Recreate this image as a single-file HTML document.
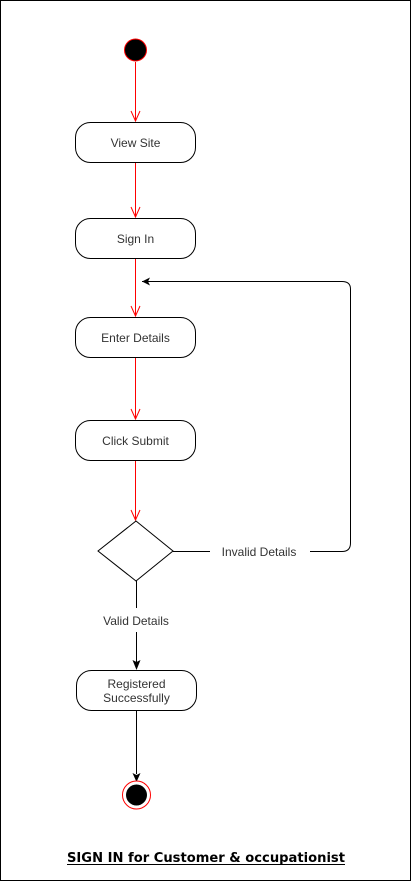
<!DOCTYPE html>
<html><head><style>body{margin:0;background:#fff}svg{display:block}</style></head><body>
<svg width="411" height="881" viewBox="0 0 411 881" xmlns="http://www.w3.org/2000/svg" font-family="Liberation Sans, Arial, sans-serif">
<rect x="0.5" y="0.5" width="410" height="880" fill="#fff" stroke="#000"/>
<g stroke="#ff0000" fill="none">
<line x1="135.5" y1="62" x2="135.5" y2="121"/><path d="M131 111 L135.5 121 L140 111"/>
<line x1="135.5" y1="162" x2="135.5" y2="217"/><path d="M131 207 L135.5 217 L140 207"/>
<line x1="135.5" y1="258" x2="135.5" y2="316"/><path d="M131 306 L135.5 316 L140 306"/>
<line x1="135.5" y1="357" x2="135.5" y2="419"/><path d="M131 409 L135.5 419 L140 409"/>
<line x1="135.5" y1="460" x2="135.5" y2="520"/><path d="M131 510 L135.5 520 L140 510"/>
</g>
<circle cx="135.5" cy="50" r="11" fill="#000" stroke="#ff0000"/>
<g fill="#fff" stroke="#000">
<rect x="75.5" y="122.5" width="120" height="40" rx="15"/>
<rect x="75.5" y="218.5" width="120" height="40" rx="15"/>
<rect x="75.5" y="317.5" width="120" height="40" rx="15"/>
<rect x="75.5" y="420.5" width="120" height="40" rx="15"/>
<rect x="76.5" y="670.5" width="120" height="40" rx="15"/>
<path d="M136 521 L173 551 L136 581 L98 551 Z"/>
</g>
<g stroke="#000" fill="none">
<line x1="173" y1="551.5" x2="210" y2="551.5"/>
<path d="M310 551.5 H342 Q350.5 551.5 350.5 543 V289 Q350.5 281.5 342 281.5 H142"/>
<line x1="136.5" y1="581" x2="136.5" y2="608"/>
<line x1="136.5" y1="632" x2="136.5" y2="662"/>
<line x1="136.5" y1="710" x2="136.5" y2="774"/>
</g>
<path d="M142 281.5 L150 277.5 L148 281.5 L150 285.5 Z" fill="#000"/>
<path d="M132.5 660 L136.5 670 L140.5 660 L136.5 662 Z" fill="#000"/>
<path d="M132.5 773 L136.5 782 L140.5 773 L136.5 775 Z" fill="#000"/>
<circle cx="136.5" cy="795" r="14" fill="#fff" stroke="#ff0000"/>
<circle cx="136.5" cy="795" r="10.5" fill="#000"/>
<g font-size="12" fill="#333" text-anchor="middle">
<text x="135.5" y="147">View Site</text>
<text x="135.5" y="243">Sign In</text>
<text x="135.5" y="342">Enter Details</text>
<text x="135.5" y="445">Click Submit</text>
<text x="136.5" y="688">Registered</text>
<text x="136.5" y="702">Successfully</text>
<text x="259" y="556">Invalid Details</text>
<text x="136" y="625">Valid Details</text>
</g>
<text x="67" y="862" font-family="DejaVu Sans, Verdana, sans-serif" font-weight="bold" font-size="13.3" fill="#000" textLength="278" lengthAdjust="spacingAndGlyphs">SIGN IN for Customer &amp; occupationist</text>
<line x1="67" y1="864.5" x2="345" y2="864.5" stroke="#000"/>
</svg>
</body></html>
